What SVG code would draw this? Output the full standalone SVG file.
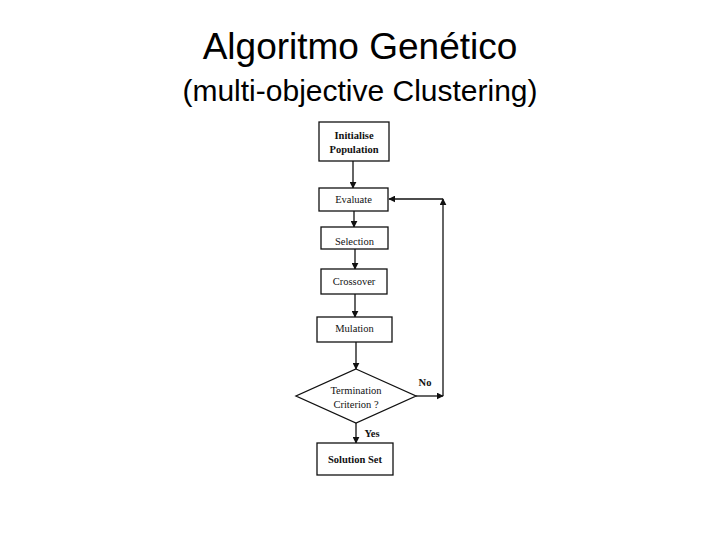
<svg xmlns="http://www.w3.org/2000/svg" width="720" height="540" viewBox="0 0 720 540">
<style>
.title{font-family:"Liberation Sans","Open Sans",sans-serif;fill:#000;text-anchor:middle}
.box{fill:#fff;stroke:#111;stroke-width:1.3}
.lbl{font-family:"Liberation Serif","DejaVu Serif",serif;font-size:10.5px;fill:#111;text-anchor:middle}
.b{font-weight:bold}
.con{fill:none;stroke:#111;stroke-width:1.3}
</style>
<defs>
<marker id="ah" viewBox="0 0 10 10" refX="9" refY="5" markerWidth="7" markerHeight="7" orient="auto" markerUnits="userSpaceOnUse">
<path d="M0,0 L10,5 L0,10 z" fill="#111"/>
</marker>
</defs>
<rect width="720" height="540" fill="#fff"/>
<g id="title">
<text class="title" x="360" y="59" font-size="37">Algoritmo Genético</text>
<text class="title" x="360" y="101" font-size="30">(multi-objective Clustering)</text>
</g>
<g id="connectors">
<line class="con" x1="353" y1="161" x2="353" y2="188" marker-end="url(#ah)"/>
<line class="con" x1="354" y1="211" x2="354" y2="227" marker-end="url(#ah)"/>
<line class="con" x1="355" y1="249" x2="355" y2="269" marker-end="url(#ah)"/>
<line class="con" x1="355" y1="294" x2="355" y2="317" marker-end="url(#ah)"/>
<line class="con" x1="356" y1="342" x2="356" y2="369" marker-end="url(#ah)"/>
<line class="con" x1="356" y1="423" x2="356" y2="443" marker-end="url(#ah)"/>
<line class="con" x1="416" y1="396" x2="443" y2="396" marker-end="url(#ah)"/>
<line class="con" x1="443" y1="396" x2="443" y2="199" marker-end="url(#ah)"/>
<line class="con" x1="443" y1="199" x2="389" y2="199" marker-end="url(#ah)"/>
<text class="lbl b" x="425" y="386">No</text>
<text class="lbl b" x="372" y="437">Yes</text>
</g>
<g id="initialise">
<rect class="box" x="319" y="122" width="70" height="39"/>
<text class="lbl b" x="354" y="139">Initialise</text>
<text class="lbl b" x="354" y="153">Population</text>
</g>
<g id="evaluate">
<rect class="box" x="319" y="188" width="69" height="23"/>
<text class="lbl" x="353.5" y="203">Evaluate</text>
</g>
<g id="selection">
<rect class="box" x="321" y="227" width="67" height="22"/>
<text class="lbl" x="354.5" y="245">Selection</text>
</g>
<g id="crossover">
<rect class="box" x="321" y="269" width="66" height="25"/>
<text class="lbl" x="354" y="285">Crossover</text>
</g>
<g id="mutation">
<rect class="box" x="317" y="317" width="75" height="25"/>
<text class="lbl" x="354.5" y="332">Mulation</text>
</g>
<g id="termination">
<polygon class="box" points="356,369 416,396 356,423 296,396"/>
<text class="lbl" x="356" y="394">Termination</text>
<text class="lbl" x="356" y="408">Criterion ?</text>
</g>
<g id="solution">
<rect class="box" x="317" y="443" width="76" height="32"/>
<text class="lbl b" x="355" y="463">Solution Set</text>
</g>
</svg>
